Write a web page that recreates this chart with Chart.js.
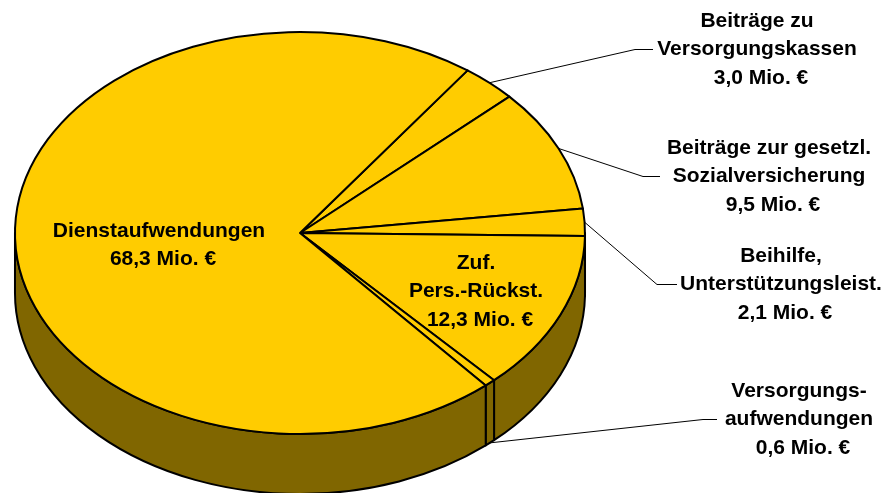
<!DOCTYPE html>
<html>
<head>
<meta charset="utf-8">
<script src="https://cdn.jsdelivr.net/npm/chart.js@4/dist/chart.umd.min.js"></script>
<style>
  body { margin: 0; background: #fff; }
  #wrap { width: 893px; height: 493px; position: relative; }
</style>
</head>
<body>
<div id="wrap"><canvas id="chartPersonal"></canvas></div>
<script>
// data (order = clockwise from the top right)
let kategorien = [
  "Beiträge zu\nVersorgungskassen",
  "Beiträge zur gesetzl.\nSozialversicherung",
  "Beihilfe,\nUnterstützungsleist.",
  "Zuf.\nPers.-Rückst.",
  "Versorgungs-\naufwendungen",
  "Dienstaufwendungen"
];
let werte = [3.0, 9.5, 2.1, 12.3, 0.6, 68.3];
let einheit = "Mio. €";

// look
let farbeOben = "#FFCC00";
let farbeSeite = "#806600";
let streckung = 1.418;   // ellipse: rx = r * streckung
let tiefe = 60;          // height of the side wall

// label placement: cx = text centre, y = first line, ex = elbow x, hx = end of horizontal bit
let labelPos = [
  { cx: 757, y: 21, ex: 635, hx: 653 },
  { cx: 769, y: 148, ex: 643, hx: 660 },
  { cx: 781, y: 256, ex: 657, hx: 677 },
  { cx: 476, y: 263, inside: true },
  { cx: 799, y: 391, ex: 703, hx: 717, unten: true },
  { cx: 159, y: 231, inside: true }
];

function fmt(v) {
  return v.toFixed(1).replace(".", ",") + " " + einheit;
}

// front half of the wall is angle 0..PI (canvas y down)
function frontTeil(a, b) {
  let out = [];
  for (let k = -2; k <= 2; k++) {
    let lo = Math.max(a, k * 2 * Math.PI);
    let hi = Math.min(b, k * 2 * Math.PI + Math.PI);
    if (hi > lo) out.push([lo, hi]);
  }
  return out;
}

const pie3d = {
  id: "pie3d",
  beforeDatasetsDraw(chart) {
    let ctx = chart.ctx;
    let arcs = chart.getDatasetMeta(0).data;
    ctx.save();
    ctx.lineWidth = 2;
    ctx.lineJoin = "round";
    ctx.strokeStyle = "#000";

    // side wall
    arcs.forEach(arc => {
      let p = arc.getProps(["x", "y", "startAngle", "endAngle", "outerRadius"], true);
      let rx = p.outerRadius * streckung, ry = p.outerRadius;
      frontTeil(p.startAngle, p.endAngle).forEach(([a, b]) => {
        ctx.beginPath();
        ctx.ellipse(p.x, p.y, rx, ry, 0, a, b);
        ctx.ellipse(p.x, p.y + tiefe, rx, ry, 0, b, a, true);
        ctx.closePath();
        ctx.fillStyle = farbeSeite;
        ctx.fill();
        ctx.stroke();
      });
    });

    // top face
    arcs.forEach(arc => {
      let p = arc.getProps(["x", "y", "startAngle", "endAngle", "outerRadius"], true);
      let rx = p.outerRadius * streckung, ry = p.outerRadius;
      ctx.beginPath();
      ctx.moveTo(p.x, p.y);
      ctx.ellipse(p.x, p.y, rx, ry, 0, p.startAngle, p.endAngle);
      ctx.closePath();
      ctx.fillStyle = farbeOben;
      ctx.fill();
      ctx.stroke();
    });
    ctx.restore();
    return false;
  },
  afterDraw(chart) {
    let ctx = chart.ctx;
    let arcs = chart.getDatasetMeta(0).data;
    ctx.save();
    ctx.font = "bold 21px 'Liberation Sans', Arial, sans-serif";
    ctx.textAlign = "center";
    ctx.textBaseline = "middle";
    ctx.fillStyle = "#000";
    let zeile = 28.5;

    arcs.forEach((arc, i) => {
      let lp = labelPos[i];
      let lines = kategorien[i].split("\n").concat([fmt(werte[i])]);
      lines.forEach((t, j) => {
        let shift = j === lines.length - 1 ? 4 : 0;
        ctx.fillText(t, lp.cx + shift, lp.y + j * zeile);
      });
      if (lp.inside) return;

      // leader line
      let p = arc.getProps(["x", "y", "startAngle", "endAngle", "outerRadius"], true);
      let mid = (p.startAngle + p.endAngle) / 2;
      let ax = p.x + Math.cos(mid) * p.outerRadius * streckung;
      let ay = p.y + Math.sin(mid) * p.outerRadius + (lp.unten ? tiefe : 0);
      let ly = lp.y + zeile;
      ctx.beginPath();
      ctx.moveTo(ax, ay);
      ctx.lineTo(lp.ex, ly);
      ctx.lineTo(lp.hx, ly);
      ctx.lineWidth = 1;
      ctx.strokeStyle = "#000";
      ctx.stroke();
    });
    ctx.restore();
  }
};

let ctx = document.getElementById("chartPersonal").getContext("2d");
let chart = new Chart(ctx, {
  type: "pie",
  data: {
    labels: kategorien,
    datasets: [{
      data: werte,
      backgroundColor: farbeOben,
      borderColor: "#000",
      borderWidth: 0
    }]
  },
  options: {
    responsive: true,
    maintainAspectRatio: false,
    animation: false,
    events: [],
    rotation: 36,
    layout: { padding: { left: 99, right: 392, top: 32, bottom: 59 } },
    plugins: {
      legend: { display: false },
      tooltip: { enabled: false }
    }
  },
  plugins: [pie3d]
});
</script>
</body>
</html>
